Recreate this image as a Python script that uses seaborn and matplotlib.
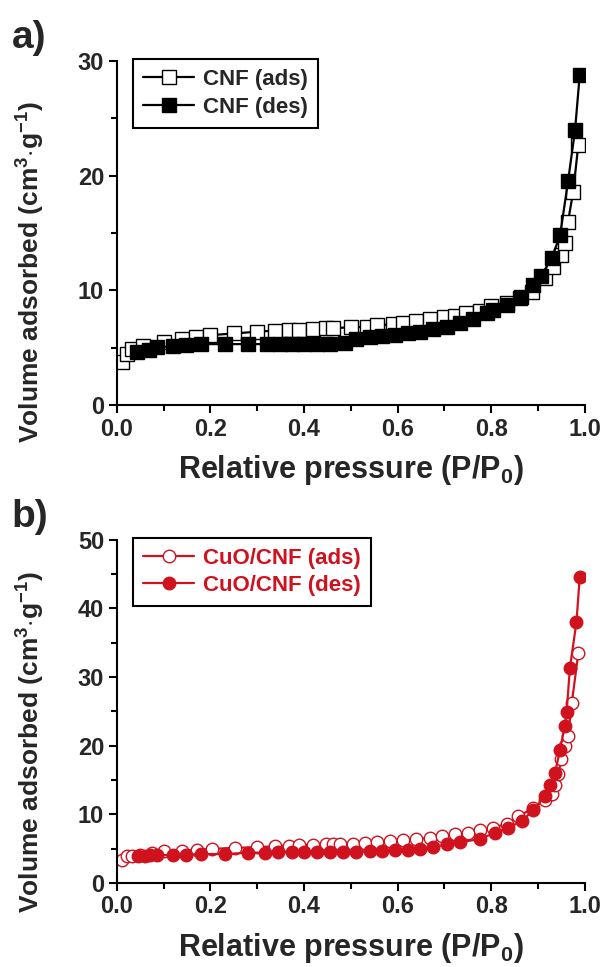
import numpy as np
import pandas as pd
import matplotlib
matplotlib.use("Agg")
import matplotlib.pyplot as plt
import seaborn as sns
from matplotlib.ticker import MultipleLocator


# CNF isotherm (panel a)
cnf_ads_p = [0.011, 0.021, 0.032, 0.057, 0.100, 0.139, 0.170, 0.200, 0.250, 0.300,
             0.338, 0.367, 0.390, 0.420, 0.448, 0.463, 0.500, 0.534, 0.555, 0.590,
             0.612, 0.640, 0.670, 0.700, 0.722, 0.747, 0.776, 0.800, 0.833, 0.861,
             0.886, 0.915, 0.932, 0.950, 0.957, 0.964, 0.975, 0.986]
cnf_ads_v = [3.8, 4.5, 4.9, 5.2, 5.5, 5.8, 5.96, 6.1, 6.25, 6.4,
             6.5, 6.54, 6.54, 6.6, 6.7, 6.7, 6.8, 6.83, 6.95, 7.06,
             7.18, 7.3, 7.47, 7.65, 7.8, 8.0, 8.2, 8.6, 8.87, 9.3,
             9.9, 11.05, 12.06, 13.1, 14.1, 16.0, 18.6, 22.7]
cnf_des_p = [0.989, 0.979, 0.964, 0.947, 0.929, 0.907, 0.890, 0.863, 0.834, 0.804,
             0.790, 0.762, 0.733, 0.705, 0.676, 0.648, 0.623, 0.594, 0.566, 0.541,
             0.512, 0.4875, 0.455, 0.427, 0.400, 0.374, 0.349, 0.320, 0.281, 0.231,
             0.181, 0.149, 0.121, 0.085, 0.068, 0.043]
cnf_des_v = [28.8, 24.0, 19.5, 14.8, 12.8, 11.3, 10.5, 9.45, 8.72, 8.28,
             8.05, 7.47, 7.12, 6.83, 6.6, 6.42, 6.25, 6.13, 6.02, 5.9,
             5.76, 5.38, 5.32, 5.32, 5.32, 5.32, 5.32, 5.32, 5.32, 5.32,
             5.32, 5.23, 5.15, 5.03, 4.85, 4.65]

# CuO/CNF isotherm (panel b)
cuo_ads_p = [0.011, 0.021, 0.032, 0.050, 0.075, 0.100, 0.139, 0.171, 0.203, 0.253,
             0.300, 0.338, 0.367, 0.390, 0.420, 0.448, 0.463, 0.477, 0.505, 0.530,
             0.555, 0.584, 0.612, 0.640, 0.670, 0.694, 0.722, 0.750, 0.776, 0.804,
             0.833, 0.858, 0.890, 0.915, 0.929, 0.936, 0.943, 0.950, 0.957, 0.964,
             0.972, 0.986]
cuo_ads_v = [3.3, 3.9, 3.9, 4.1, 4.4, 4.6, 4.7, 4.85, 4.95, 5.1,
             5.2, 5.34, 5.44, 5.5, 5.55, 5.6, 5.65, 5.7, 5.73, 5.83,
             6.0, 6.1, 6.2, 6.4, 6.55, 6.8, 7.05, 7.3, 7.67, 8.0,
             8.64, 9.7, 10.9, 12.1, 12.9, 14.3, 15.8, 18.0, 19.9, 21.4,
             26.2, 33.5]
cuo_des_p = [0.989, 0.982, 0.968, 0.961, 0.957, 0.947, 0.936, 0.925, 0.915, 0.890,
             0.865, 0.836, 0.808, 0.776, 0.733, 0.705, 0.676, 0.648, 0.623, 0.594,
             0.566, 0.541, 0.512, 0.484, 0.455, 0.427, 0.400, 0.374, 0.345, 0.317,
             0.281, 0.231, 0.181, 0.149, 0.121, 0.085, 0.071, 0.060, 0.046]
cuo_des_v = [44.6, 38.0, 31.3, 24.9, 22.9, 19.4, 16.0, 14.3, 12.7, 10.6,
             9.0, 8.0, 7.3, 6.4, 5.9, 5.6, 5.24, 4.95, 4.85, 4.76,
             4.7, 4.6, 4.56, 4.5, 4.47, 4.47, 4.47, 4.47, 4.47, 4.4,
             4.4, 4.2, 4.2, 4.1, 4.1, 4.0, 4.0, 3.9, 3.9]

x_ticks = [0.0, 0.2, 0.4, 0.6, 0.8, 1.0]
x_ticklabels = ["0.0", "0.2", "0.4", "0.6", "0.8", "1.0"]

RED = "#d0121e"

sns.set_style("ticks")
plt.rcParams["font.family"] = ["Liberation Sans", "DejaVu Sans"]
plt.rcParams["font.weight"] = "bold"
plt.rcParams["axes.labelweight"] = "bold"
plt.rcParams["mathtext.fontset"] = "custom"
plt.rcParams["mathtext.rm"] = "Liberation Sans:bold"
plt.rcParams["mathtext.bf"] = "Liberation Sans:bold"
plt.rcParams["mathtext.it"] = "Liberation Sans:bold"
plt.rcParams["mathtext.default"] = "rm"


def style_axes(ax, ymax, ymajor, ylab_y):
    ax.set_xlim(0, 1.0)
    ax.set_ylim(0, ymax)
    ax.xaxis.set_minor_locator(MultipleLocator(0.1))
    ax.yaxis.set_major_locator(MultipleLocator(ymajor))
    ax.yaxis.set_minor_locator(MultipleLocator(ymajor / 2))
    ax.set_xticks(x_ticks)
    ax.set_xticklabels(x_ticklabels)
    sns.despine(ax=ax)
    for s in ["left", "bottom"]:
        ax.spines[s].set_linewidth(1.5)
        ax.spines[s].set_color("black")
    ax.tick_params(axis="both", which="major", direction="out", length=6, width=1.5,
                   labelsize=17, pad=3, color="black")
    ax.tick_params(axis="both", which="minor", direction="out", length=4, width=1.5,
                   color="black")
    for lab in ax.get_xticklabels() + ax.get_yticklabels():
        lab.set_fontweight("bold")
    ax.set_xlabel("Relative pressure (P/P$_0$)", fontsize=22, fontweight="bold", labelpad=9)
    ax.set_ylabel("Volume adsorbed (cm$^3$$\\cdot$g$^{-1}$)", fontsize=19, fontweight="bold")
    ax.yaxis.set_label_coords(-0.15, ylab_y)
    ax.grid(False)


fig = plt.figure(figsize=(6.08, 9.67), dpi=100)
ax0 = fig.add_axes([0.192, 0.581, 0.770, 0.356])
ax1 = fig.add_axes([0.192, 0.087, 0.770, 0.355])

leg_kw = dict(loc="upper left", bbox_to_anchor=(0.035, 1.006), borderaxespad=0, frameon=True,
              fancybox=False, edgecolor="black", framealpha=1,
              prop={"size": 16, "weight": "bold"}, handlelength=2.3, handletextpad=0.4,
              borderpad=0.45, labelspacing=0.3)

# panel a
sns.lineplot(x=cnf_ads_p, y=cnf_ads_v, sort=False, estimator=None, ax=ax0, color="black",
             linewidth=1.6, marker="s", markersize=9.5, markerfacecolor="white",
             markeredgecolor="black", markeredgewidth=1.0, label="CNF (ads)")
sns.lineplot(x=cnf_des_p, y=cnf_des_v, sort=False, estimator=None, ax=ax0, color="black",
             linewidth=1.6, marker="s", markersize=9.5, markerfacecolor="black",
             markeredgecolor="black", markeredgewidth=1.0, label="CNF (des)")
style_axes(ax0, 30, 10, 0.385)
leg0 = ax0.legend(**leg_kw)
leg0.get_frame().set_linewidth(1.5)

# panel b
sns.lineplot(x=cuo_ads_p, y=cuo_ads_v, sort=False, estimator=None, ax=ax1, color=RED,
             linewidth=1.6, marker="o", markersize=9, markerfacecolor="white",
             markeredgecolor=RED, markeredgewidth=1.0, label="CuO/CNF (ads)")
sns.lineplot(x=cuo_des_p, y=cuo_des_v, sort=False, estimator=None, ax=ax1, color=RED,
             linewidth=1.6, marker="o", markersize=9, markerfacecolor=RED,
             markeredgecolor=RED, markeredgewidth=1.0, label="CuO/CNF (des)")
style_axes(ax1, 50, 10, 0.41)
leg1 = ax1.legend(labelcolor=RED, **leg_kw)
leg1.get_frame().set_linewidth(1.5)

fig.text(0.019, 1 - 48 / 967, "a)", fontsize=28, fontweight="bold", ha="left", va="baseline")
fig.text(0.019, 1 - 527 / 967, "b)", fontsize=28, fontweight="bold", ha="left", va="baseline")

fig.savefig("out.png", dpi=100)
